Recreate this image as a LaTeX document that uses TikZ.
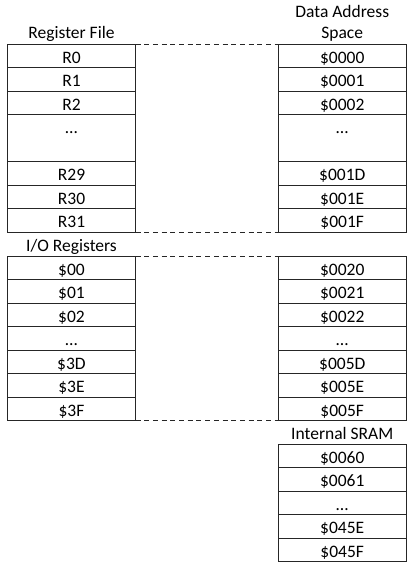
\documentclass[tikz,border=0pt]{standalone}
\usepackage{fontspec}
\setmainfont{Carlito}
\begin{document}
\begin{tikzpicture}[x=1pt,y=-1pt,
  cell/.style={draw=black!85, line width=1.2pt, minimum width=128pt, minimum height=23.5pt,
    inner sep=0pt, outer sep=0pt, text height=14.5pt, text depth=0pt, anchor=north,
    font=\fontsize{17.5}{21}\selectfont},
  dcell/.style={cell, minimum height=47pt, text depth=23.5pt},
  title/.style={anchor=base, inner sep=0pt, font=\fontsize{17.5}{21}\selectfont},
  link/.style={draw=black!85, line width=1.2pt, dash pattern=on 5pt off 3.7pt}]
\useasboundingbox (0,0) rectangle (411,564);
% titles
\node[title] (tRF) at (71.5,39) {Register File};
\node[title] (tDA) at (342.25,17.3) {Data Address};
\node[title] (tSp) at (342.25,39) {Space};
\node[title] (tIO) at (71.5,251) {I/O Registers};
\node[title] (tSR) at (342.25,439) {Internal SRAM};
% register file
\node[cell] (r0) at (71.5,44.3) {R0};
\node[cell] (r1) at (r0.south) {R1};
\node[cell] (r2) at (r1.south) {R2};
\node[dcell] (rd) at (r2.south) {…};
\node[cell] (r29) at (rd.south) {R29};
\node[cell] (r30) at (r29.south) {R30};
\node[cell] (r31) at (r30.south) {R31};
% data space A
\node[cell] (a0) at (342.25,44.3) {\$0000};
\node[cell] (a1) at (a0.south) {\$0001};
\node[cell] (a2) at (a1.south) {\$0002};
\node[dcell] (ad) at (a2.south) {…};
\node[cell] (a1d) at (ad.south) {\$001D};
\node[cell] (a1e) at (a1d.south) {\$001E};
\node[cell] (a1f) at (a1e.south) {\$001F};
% I/O registers
\node[cell] (i0) at (71.5,256.3) {\$00};
\node[cell] (i1) at (i0.south) {\$01};
\node[cell] (i2) at (i1.south) {\$02};
\node[cell] (id) at (i2.south) {…};
\node[cell] (i3d) at (id.south) {\$3D};
\node[cell] (i3e) at (i3d.south) {\$3E};
\node[cell] (i3f) at (i3e.south) {\$3F};
% data space B
\node[cell] (b0) at (342.25,256.3) {\$0020};
\node[cell] (b1) at (b0.south) {\$0021};
\node[cell] (b2) at (b1.south) {\$0022};
\node[cell] (bd) at (b2.south) {…};
\node[cell] (b5d) at (bd.south) {\$005D};
\node[cell] (b5e) at (b5d.south) {\$005E};
\node[cell] (b5f) at (b5e.south) {\$005F};
% SRAM
\node[cell] (s0) at (342.25,444.3) {\$0060};
\node[cell] (s1) at (s0.south) {\$0061};
\node[cell] (sd) at (s1.south) {…};
\node[cell] (s45e) at (sd.south) {\$045E};
\node[cell] (s45f) at (s45e.south) {\$045F};
% dashed links
\draw[link] (r0.north east) -- (a0.north west);
\draw[link] (r31.south east) -- (a1f.south west);
\draw[link] (i0.north east) -- (b0.north west);
\draw[link] (i3f.south east) -- (b5f.south west);
\end{tikzpicture}
\end{document}
